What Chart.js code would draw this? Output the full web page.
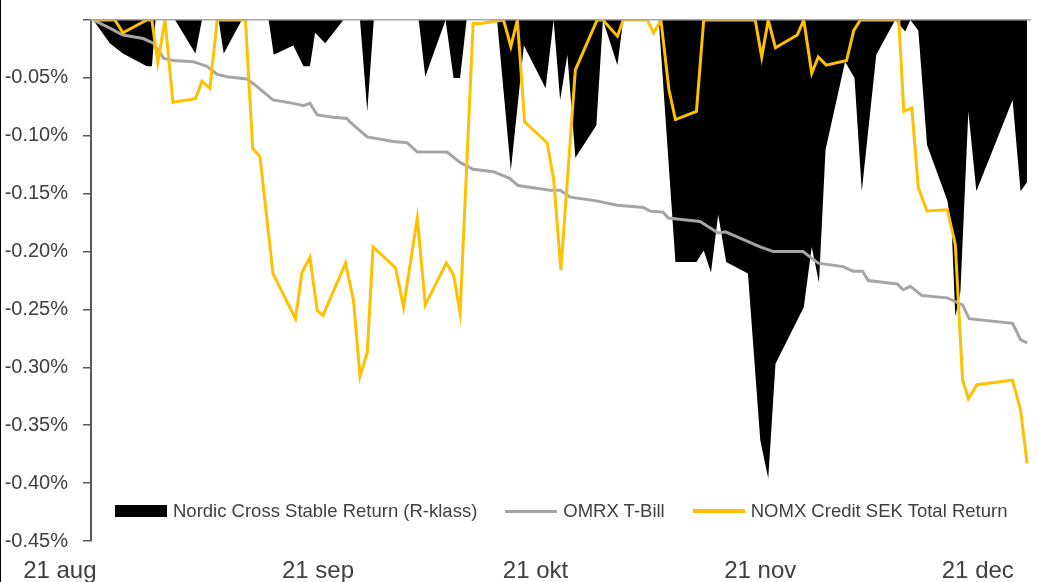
<!DOCTYPE html>
<html>
<head>
<meta charset="utf-8">
<script src="https://cdn.jsdelivr.net/npm/chart.js@4/dist/chart.umd.min.js"></script>
<style>
  body { margin: 0; background: #fff; }
  #wrap { position: relative; width: 1039px; height: 582px; overflow: hidden; }
  #frame { position: absolute; left: 0; top: 0; width: 1px; height: 582px; background: #000; }
  #legend {
    position: absolute; left: 115px; top: 500px; display: flex; align-items: center;
    font-family: "Liberation Sans", Arial, sans-serif; font-size: 18.5px; color: #404040; white-space: nowrap;
  }
  #legend .box { width: 52px; height: 12px; background: #000; margin-right: 6px; }
  #legend .ln { width: 52px; height: 3px; margin-right: 6px; }
  #legend .txt { margin-right: 28px; }
</style>
</head>
<body>
<div id="wrap">
  <canvas id="chart" width="1039" height="582"></canvas>
  <div id="frame"></div>
  <div id="legend">
    <span class="box"></span><span class="txt">Nordic Cross Stable Return (R-klass)</span>
    <span class="ln" style="background:#A5A5A5"></span><span class="txt">OMRX T-Bill</span>
    <span class="ln" style="background:#FFC000;height:3.5px"></span><span class="txt">NOMX Credit SEK Total Return</span>
  </div>
</div>
<script>
// x values are days after 21 aug, y values are returns in percent
const tickDays = [0, 31, 61, 92, 122];
const tickLabels = ['21 aug', '21 sep', '21 okt', '21 nov', '21 dec'];

const nordicDays = [0, 2.3, 4.1, 7.4, 8.1, 8.6, 11.3, 14.1, 15.0, 17.3, 18.0, 20.5, 24.2, 24.9, 27.6, 29.0, 29.9, 30.6, 32.0, 34.5,
  36.8, 37.8, 38.7, 44.9, 45.8, 48.6, 49.7, 50.6, 51.5, 55.7, 57.6, 59.4, 62.4, 63.5, 64.4, 65.4, 66.5, 69.4, 70.3, 72.3,
  73.1, 78.0, 80.3, 83.2, 84.2, 85.2, 86.2, 87.3, 90.3, 92.0, 93.1, 94.1, 98.0, 99.1, 100.1, 101.0, 103.7, 105.0, 106.0, 108.0,
  110.6, 112.0, 112.7, 113.8, 115.0, 117.8, 118.4, 118.9, 119.6, 120.7, 121.8, 126.8, 127.9, 128.8];
const nordicValues = [0, -0.020, -0.029, -0.040, -0.040, 0, 0, -0.029, 0, 0, -0.029, 0, 0, -0.030, -0.022, -0.040, -0.040, -0.011, -0.020, 0,
  0, -0.079, 0, 0, -0.049, 0, -0.050, -0.050, 0, 0, -0.130, -0.022, -0.059, 0, -0.069, -0.030, -0.119, -0.091, 0, -0.039,
  0, 0, -0.209, -0.209, -0.199, -0.218, -0.168, -0.209, -0.219, -0.363, -0.396, -0.297, -0.248, -0.196, -0.227, -0.112, -0.036, -0.050, -0.148, -0.030,
  0, -0.010, 0, -0.009, -0.108, -0.156, -0.180, -0.256, -0.235, -0.079, -0.148, -0.069, -0.148, -0.140];

const tbillDays = [0, 2.3, 4.1, 6.9, 8.3, 9.7, 11.0, 13.8, 15.7, 17.1, 18.5, 21.2, 22.1, 24.8, 27.6, 29.0, 29.9, 30.9, 33.1, 35.0,
  35.4, 37.8, 41.4, 43.3, 44.7, 48.8, 50.6, 52.4, 55.2, 57.5, 58.6, 63.0, 64.4, 65.8, 69.2, 72.3, 75.9, 76.8, 78.6, 79.3,
  83.7, 86.2, 87.2, 92.0, 93.8, 97.9, 100.0, 103.4, 104.8, 106.1, 106.9, 110.9, 111.7, 112.7, 114.3, 117.8, 119.9, 120.8, 126.8, 127.9,
  128.8];
const tbillValues = [0, -0.007, -0.013, -0.016, -0.020, -0.033, -0.035, -0.036, -0.040, -0.047, -0.049, -0.051, -0.055, -0.069, -0.072, -0.074, -0.072, -0.082, -0.084, -0.085,
  -0.088, -0.101, -0.105, -0.106, -0.114, -0.114, -0.123, -0.129, -0.131, -0.137, -0.143, -0.147, -0.147, -0.153, -0.156, -0.160, -0.162, -0.165, -0.166, -0.171,
  -0.174, -0.184, -0.183, -0.196, -0.200, -0.200, -0.210, -0.213, -0.217, -0.217, -0.225, -0.228, -0.233, -0.230, -0.238, -0.240, -0.246, -0.258, -0.262, -0.276,
  -0.279];

const creditDays = [0, 3.0, 4.1, 7.4, 8.1, 8.9, 9.9, 11.0, 14.1, 15.0, 16.1, 17.1, 21.0, 22.0, 23.0, 24.8, 27.9, 28.8, 29.9, 30.9,
  31.7, 34.8, 35.9, 36.8, 37.8, 38.6, 41.7, 42.8, 44.7, 45.8, 48.7, 49.7, 50.6, 52.4, 53.4, 56.6, 57.6, 58.5, 59.5, 62.6,
  63.5, 64.5, 66.5, 69.5, 70.3, 72.3, 73.1, 76.4, 77.3, 78.3, 79.4, 80.3, 83.2, 84.2, 91.3, 92.2, 93.1, 94.1, 97.1, 98.0,
  99.1, 100.0, 101.1, 103.9, 104.9, 105.8, 111.1, 111.8, 112.9, 113.8, 115.0, 117.8, 118.9, 119.9, 120.7, 121.9, 126.8, 127.9, 128.8];
const creditValues = [0, 0, -0.011, 0, 0, -0.037, 0, -0.071, -0.068, -0.053, -0.059, 0, 0, -0.111, -0.118, -0.219, -0.258, -0.218, -0.205, -0.251,
  -0.255, -0.210, -0.242, -0.308, -0.287, -0.196, -0.214, -0.248, -0.171, -0.246, -0.210, -0.220, -0.253, -0.003, -0.003, 0, -0.023, 0, -0.088, -0.106,
  -0.137, -0.216, -0.043, 0, 0, -0.014, 0, 0, -0.011, 0, -0.060, -0.086, -0.079, 0, 0, -0.032, 0, -0.024, -0.013, 0,
  -0.046, -0.032, -0.039, -0.035, -0.009, 0, 0, -0.079, -0.076, -0.145, -0.165, -0.164, -0.194, -0.311, -0.327, -0.315, -0.311, -0.337, -0.383];

function toPoints(days, values) {
  return days.map((d, i) => ({ x: d, y: values[i] }));
}

const xMin = -0.3;
const xMax = 129.2;

new Chart(document.getElementById('chart'), {
  type: 'line',
  data: {
    datasets: [
      {
        label: 'Nordic Cross Stable Return (R-klass)',
        data: toPoints(nordicDays, nordicValues),
        backgroundColor: '#000000',
        borderWidth: 0,
        fill: 'origin',
        pointRadius: 0,
        order: 3
      },
      {
        label: 'OMRX T-Bill',
        data: toPoints(tbillDays, tbillValues),
        borderColor: '#A5A5A5',
        borderWidth: 3,
        fill: false,
        pointRadius: 0,
        order: 2
      },
      {
        label: 'NOMX Credit SEK Total Return',
        data: toPoints(creditDays, creditValues),
        borderColor: '#FFC000',
        borderWidth: 3,
        fill: false,
        pointRadius: 0,
        order: 1
      }
    ]
  },
  options: {
    responsive: false,
    animation: false,
    devicePixelRatio: 1,
    layout: { padding: { left: 0, right: 9, top: 20, bottom: 0 } },
    plugins: { legend: { display: false }, tooltip: { enabled: false } },
    scales: {
      x: {
        type: 'linear',
        position: 'bottom',
        min: xMin,
        max: xMax,
        afterBuildTicks: scale => { scale.ticks = tickDays.map(v => ({ value: v })); },
        afterFit: scale => { scale.height = 41; },
        grid: { display: false },
        border: { display: false },
        ticks: {
          autoSkip: false,
          maxRotation: 0,
          padding: 8,
          color: '#404040',
          font: { family: '"Liberation Sans", Arial, sans-serif', size: 24 },
          // the first label sits left of its date in the original, padded with trailing spaces
          callback: value => {
            const i = tickDays.indexOf(value);
            return i === 0 ? tickLabels[i] + '\u00a0'.repeat(10) : tickLabels[i];
          }
        }
      },
      xTop: {
        type: 'linear',
        position: 'top',
        min: xMin,
        max: xMax,
        afterFit: scale => { scale.height = 0; },
        grid: { display: false },
        ticks: { display: false },
        border: { display: true, color: '#A6A6A6', width: 1.5, z: 1 }
      },
      y: {
        min: -0.45,
        max: 0,
        afterFit: scale => { scale.width = 91; scale.paddingTop = 0; scale.paddingBottom = 0; },
        grid: { drawOnChartArea: false, drawTicks: true, tickLength: 8, tickColor: '#595959', lineWidth: 1.5 },
        border: { display: true, color: '#595959', width: 2 },
        ticks: {
          stepSize: 0.05,
          padding: 15,
          color: '#404040',
          font: { family: '"Liberation Sans", Arial, sans-serif', size: 20 },
          callback: value => Math.abs(value) < 1e-9 ? '' : value.toFixed(2) + '%'
        }
      }
    }
  }
});
</script>
</body>
</html>
